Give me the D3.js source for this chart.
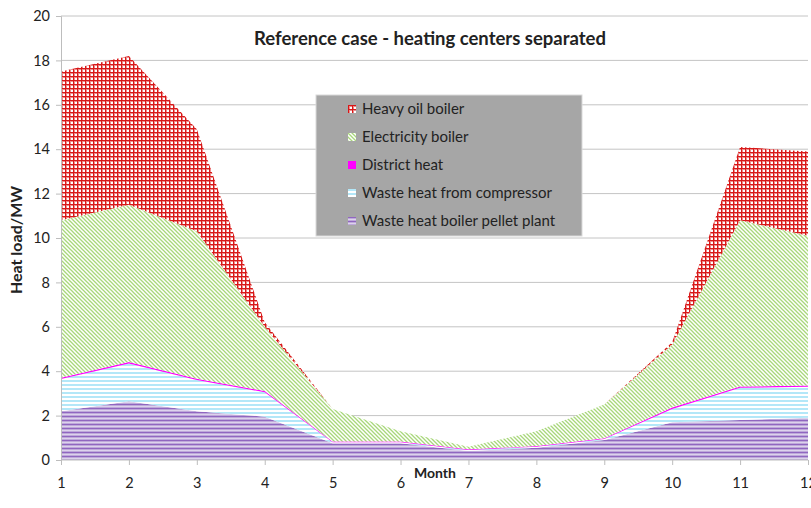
<!DOCTYPE html>
<html>
<head>
<meta charset="utf-8">
<script src="https://cdn.jsdelivr.net/npm/d3@7"></script>
<style>
  body { margin: 0; background: #fff; }
  text { font-family: Lato, "Open Sans", sans-serif; fill: #222; }
</style>
</head>
<body>
<svg id="chart" width="811" height="508"></svg>
<script>
// months on the x axis
const months = [1, 2, 3, 4, 5, 6, 7, 8, 9, 10, 11, 12];

// stacked series, bottom to top (MW)
const pellet     = [2.2, 2.65, 2.2, 1.95, 0.75, 0.75, 0.4, 0.55, 0.9, 1.7, 1.8, 1.9];
const compressor = [1.45, 1.7, 1.4, 1.1, 0.05, 0.05, 0.05, 0.05, 0.05, 0.6, 1.45, 1.4];
const district   = [0.06, 0.06, 0.06, 0.06, 0.03, 0.03, 0.03, 0.03, 0.03, 0.06, 0.06, 0.06];
const electric   = [7.09, 7.09, 6.64, 2.89, 1.47, 0.47, 0.12, 0.67, 1.52, 2.84, 7.49, 6.74];
const heavyOil   = [6.7, 6.7, 4.6, 0.2, 0, 0, 0, 0, 0, 0.1, 3.3, 3.8];

const seriesNames = ["Waste heat boiler pellet plant", "Waste heat from compressor",
                     "District heat", "Electricity boiler", "Heavy oil boiler"];
const yTicks = [0, 2, 4, 6, 8, 10, 12, 14, 16, 18, 20];

const table = months.map((m, i) => ({
    month: m,
    s0: pellet[i], s1: compressor[i], s2: district[i], s3: electric[i], s4: heavyOil[i]
}));

const svg = d3.select("#chart");
const margin = { top: 16, right: 3, bottom: 48, left: 61 };
const width = 811 - margin.left - margin.right;
const height = 508 - margin.top - margin.bottom;

// fill patterns, roughly like the Excel ones
const defs = svg.append("defs");

let p = defs.append("pattern").attr("id", "pOil").attr("patternUnits", "userSpaceOnUse")
    .attr("width", 4).attr("height", 4);
p.append("rect").attr("width", 4).attr("height", 4).attr("fill", "#fff");
p.append("rect").attr("y", 1).attr("width", 4).attr("height", 1).attr("fill", "#ec8a8a");
p.append("rect").attr("x", 1).attr("width", 1).attr("height", 4).attr("fill", "#ec8a8a");
p.append("rect").attr("width", 4).attr("height", 1).attr("fill", "#d81818");
p.append("rect").attr("width", 1).attr("height", 4).attr("fill", "#d81818");

p = defs.append("pattern").attr("id", "pElec").attr("patternUnits", "userSpaceOnUse")
    .attr("width", 4).attr("height", 4);
p.append("rect").attr("width", 4).attr("height", 4).attr("fill", "#fff");
p.append("path").attr("d", "M-1,-1 L5,5 M-1,3 L1,5 M3,-1 L5,1")
    .attr("stroke", "#a8d77a").attr("stroke-width", 1.3);

p = defs.append("pattern").attr("id", "pComp").attr("patternUnits", "userSpaceOnUse")
    .attr("width", 4).attr("height", 4);
p.append("rect").attr("width", 4).attr("height", 4).attr("fill", "#fff");
p.append("rect").attr("width", 4).attr("height", 2).attr("fill", "#b3e7f8");

p = defs.append("pattern").attr("id", "pPellet").attr("patternUnits", "userSpaceOnUse")
    .attr("width", 4).attr("height", 4);
p.append("rect").attr("width", 4).attr("height", 4).attr("fill", "#bea9da");
p.append("rect").attr("y", 0).attr("width", 4).attr("height", 1).attr("fill", "#9066c0");
p.append("rect").attr("y", 2).attr("width", 4).attr("height", 1).attr("fill", "#ddd2ec");

const fills = ["url(#pPellet)", "url(#pComp)", "#ff00ff", "url(#pElec)", "url(#pOil)"];
const legendFills = fills;

const g = svg.append("g").attr("transform", `translate(${margin.left},${margin.top})`);

const x = d3.scaleLinear().domain([1, 12]).range([0, width]);
const y = d3.scaleLinear().domain([0, 20]).range([height, 0]);

// gridlines
g.append("g")
    .selectAll("line")
    .data(yTicks.slice(1))
    .enter()
    .append("line")
        .attr("x1", 0).attr("x2", width)
        .attr("y1", d => y(d)).attr("y2", d => y(d))
        .attr("stroke", "#c4c4c4").attr("stroke-width", 1);

const stack = d3.stack().keys(["s0", "s1", "s2", "s3", "s4"]);
const layers = stack(table);

const area = d3.area()
    .x(d => x(d.data.month))
    .y0(d => y(d[0]))
    .y1(d => y(d[1]));

g.append("g")
    .selectAll("path")
    .data(layers)
    .enter()
    .append("path")
        .attr("d", area)
        .attr("fill", (d, i) => fills[i]);

// axes
const yAxis = g.append("g")
    .call(d3.axisLeft(y).tickValues(yTicks).tickSize(5).tickPadding(6));
const xAxis = g.append("g")
    .attr("transform", `translate(0,${height})`)
    .call(d3.axisBottom(x).tickValues(months).tickSize(5).tickPadding(13));

[yAxis, xAxis].forEach(a => {
    a.select(".domain").attr("stroke", "#bdbdbd");
    a.selectAll(".tick line").attr("stroke", "#bdbdbd");
    a.selectAll(".tick text").style("font-size", "14.5px").attr("fill", "#222")
        .style("font-family", "Lato, 'Open Sans', sans-serif");
});
xAxis.select(".domain").attr("d", `M0,0H${width}`);

// titles
svg.append("text")
    .attr("x", 430).attr("y", 45)
    .attr("text-anchor", "middle")
    .style("font-size", "18.5px").style("font-weight", "bold")
    .text("Reference case - heating centers separated");

svg.append("text")
    .attr("x", 435).attr("y", 478)
    .attr("text-anchor", "middle")
    .style("font-size", "14px").style("font-weight", "bold")
    .text("Month");

svg.append("text")
    .attr("transform", "translate(22,240) rotate(-90)")
    .attr("text-anchor", "middle")
    .style("font-size", "16px").style("font-weight", "bold")
    .text("Heat load/MW");

// legend, top entry is the top layer
const legend = svg.append("g").attr("transform", "translate(316,95)");
legend.append("rect")
    .attr("width", 266).attr("height", 141)
    .attr("fill", "#a6a6a6").attr("stroke", "#d9d9d9");

const order = [4, 3, 2, 1, 0];
const item = legend.selectAll(".item")
    .data(order)
    .enter()
    .append("g")
        .attr("class", "item")
        .attr("transform", (d, i) => `translate(32,${14 + i * 28})`);

item.append("rect")
    .attr("x", 0).attr("y", -4).attr("width", 8).attr("height", 8)
    .attr("fill", d => legendFills[d]);

item.append("text")
    .attr("x", 14).attr("y", 5)
    .style("font-size", "15px")
    .attr("fill", "#222")
    .text(d => seriesNames[d]);
</script>
</body>
</html>
